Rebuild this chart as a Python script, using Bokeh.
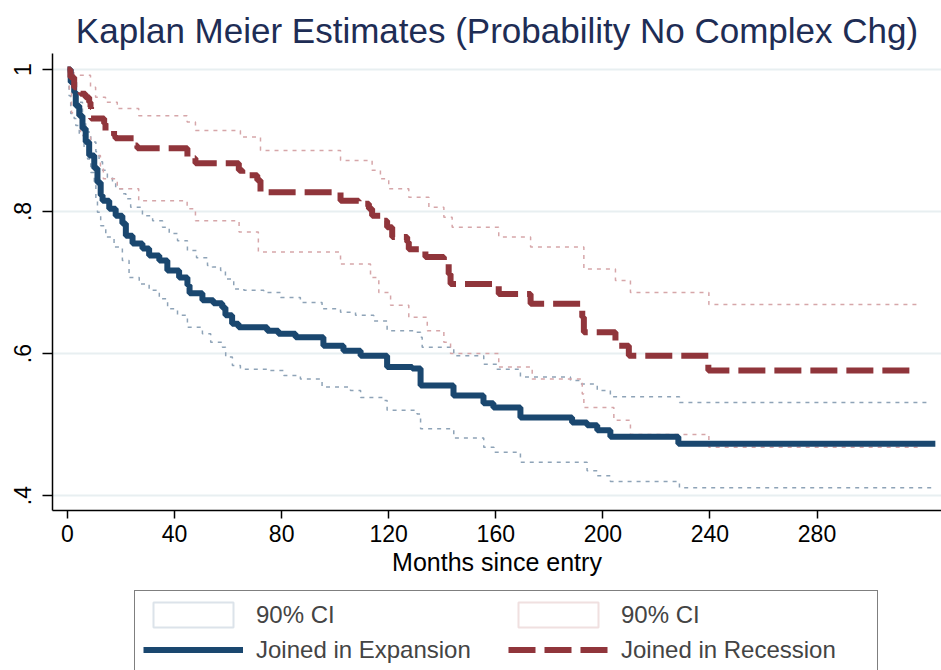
from bokeh.plotting import figure
from bokeh.layouts import column
from bokeh.models import Legend, LegendItem, Range1d
from bokeh.embed import file_html
from bokeh.resources import INLINE

title = "Kaplan Meier Estimates (Probability No Complex Chg)"
x_label = "Months since entry"
x_ticks = [0, 40, 80, 120, 160, 200, 240, 280]
y_ticks = [0.4, 0.6, 0.8, 1.0]
y_tick_labels = {0.4: ".4", 0.6: ".6", 0.8: ".8", 1.0: "1"}

# Joined in Expansion: survivor function and 90% CI (months, probability)
exp_t = [0, 1.2, 2.5, 3.1, 4.4, 5.6, 6.8, 8.1, 10.0, 11.2, 12.4, 13.1, 15.6, 18.0,
         20.5, 21.8, 24.3, 28.0, 30.5, 34.3, 37.3, 41.7, 44.8, 45.6, 50.4, 54.5,
         57.8, 59.0, 61.5, 63.9, 74.6, 78.8, 85.2, 95.6, 103.1, 109.5, 119.4, 128.8,
         131.9, 144.2, 155.4, 159.1, 169.2, 188.5, 194.1, 197.9, 202.8, 228.2, 324.2]
exp_s = [1.0, 0.982, 0.968, 0.949, 0.935, 0.917, 0.898, 0.879, 0.861, 0.841, 0.823,
         0.815, 0.804, 0.794, 0.783, 0.766, 0.755, 0.748, 0.738, 0.731, 0.717, 0.707,
         0.696, 0.685, 0.675, 0.671, 0.665, 0.654, 0.642, 0.637, 0.632, 0.628, 0.623,
         0.611, 0.604, 0.597, 0.581, 0.579, 0.555, 0.541, 0.530, 0.524, 0.510, 0.503,
         0.499, 0.492, 0.483, 0.473, 0.473]

exp_hi_t = [0, 1.1, 2.2, 3.7, 5.6, 6.8, 8.7, 10.6, 11.8, 13.1, 14.9, 16.8, 18.0, 20.5,
            21.8, 23.6, 28.0, 31.8, 35.5, 38.0, 41.1, 44.8, 48.2, 52.3, 54.1, 57.2,
            59.0, 62.1, 65.9, 73.3, 79.6, 87.0, 95.1, 102.0, 107.6, 114.4, 119.4, 129.4,
            131.9, 132.5, 144.3, 155.5, 160.5, 168.6, 169.2, 187.9, 191.6, 197.9, 202.8,
            228.6, 321.7]
exp_hi = [1.0, 0.985, 0.968, 0.954, 0.926, 0.912, 0.898, 0.884, 0.870, 0.858, 0.848,
          0.841, 0.832, 0.825, 0.818, 0.806, 0.794, 0.787, 0.778, 0.769, 0.759, 0.745,
          0.735, 0.724, 0.722, 0.717, 0.705, 0.691, 0.689, 0.686, 0.679, 0.672, 0.663,
          0.658, 0.654, 0.646, 0.632, 0.630, 0.623, 0.609, 0.597, 0.585, 0.578, 0.576,
          0.567, 0.562, 0.557, 0.548, 0.539, 0.531, 0.531]

exp_lo_t = [0, 0.6, 1.2, 2.5, 3.1, 4.4, 6.2, 7.5, 8.7, 10.0, 10.6, 11.2, 12.4, 14.3,
            17.4, 20.5, 23.0, 26.8, 30.5, 34.3, 37.4, 41.1, 44.8, 50.4, 53.5, 57.9,
            59.1, 61.6, 64.6, 74.6, 80.8, 87.0, 95.1, 105.7, 109.5, 118.2, 119.4, 130.6,
            131.9, 144.3, 155.5, 159.3, 169.2, 194.1, 197.9, 202.8, 228.6, 323.6]
exp_lo = [1.0, 0.963, 0.938, 0.931, 0.921, 0.907, 0.888, 0.874, 0.855, 0.837, 0.818,
          0.799, 0.780, 0.764, 0.750, 0.731, 0.707, 0.698, 0.689, 0.677, 0.663, 0.654,
          0.637, 0.628, 0.616, 0.609, 0.595, 0.583, 0.578, 0.576, 0.569, 0.564, 0.553,
          0.548, 0.538, 0.534, 0.520, 0.515, 0.494, 0.481, 0.468, 0.461, 0.447, 0.435,
          0.428, 0.420, 0.411, 0.411]

# Joined in Recession
rec_t = [0, 1.1, 2.5, 4.9, 6.7, 8.1, 8.6, 8.8, 13.7, 14.2, 17.4, 17.9, 24.9, 26.1,
         44.8, 47.8, 64.0, 65.3, 70.9, 72.1, 102.0, 108.8, 112.6, 113.8, 116.9, 119.4,
         121.3, 126.9, 127.5, 133.7, 140.6, 142.4, 143.1, 161.1, 173.0, 192.3, 192.9,
         204.7, 209.7, 239.4, 317.1]
rec_s = [1.0, 0.989, 0.975, 0.966, 0.961, 0.954, 0.947, 0.931, 0.924, 0.914, 0.907,
         0.903, 0.893, 0.889, 0.875, 0.868, 0.858, 0.851, 0.844, 0.827, 0.815, 0.811,
         0.804, 0.794, 0.787, 0.778, 0.764, 0.757, 0.747, 0.736, 0.727, 0.712, 0.698,
         0.684, 0.670, 0.651, 0.630, 0.611, 0.597, 0.576, 0.576]

rec_hi_t = [0, 2.4, 8.6, 10.5, 14.2, 18.6, 26.6, 44.7, 47.8, 64.6, 72.1, 102.0, 113.8,
            116.9, 120.0, 127.5, 135.0, 140.6, 143.7, 161.1, 173.0, 192.9, 204.7, 210.3,
            239.6, 317.4]
rec_hi = [1.0, 0.992, 0.975, 0.961, 0.954, 0.945, 0.935, 0.926, 0.914, 0.905, 0.886,
          0.872, 0.858, 0.846, 0.832, 0.820, 0.806, 0.792, 0.778, 0.764, 0.750, 0.719,
          0.703, 0.686, 0.669, 0.669]

rec_lo_t = [0, 0.7, 1.5, 4.9, 8.6, 12.3, 13.4, 18.6, 26.6, 44.7, 47.8, 64.1, 71.3,
            102.0, 113.2, 116.3, 120.7, 127.5, 134.4, 140.6, 143.1, 161.1, 173.6, 192.3,
            192.9, 204.1, 210.3, 239.6, 318.6]
rec_lo = [1.0, 0.970, 0.939, 0.907, 0.879, 0.862, 0.846, 0.832, 0.815, 0.804, 0.787,
          0.771, 0.743, 0.726, 0.707, 0.686, 0.668, 0.651, 0.632, 0.616, 0.600, 0.581,
          0.564, 0.543, 0.524, 0.506, 0.486, 0.468, 0.468]

legend_labels = ["90% CI", "90% CI", "Joined in Expansion", "Joined in Recession"]

blue = "#1a476f"
red = "#90353b"
blue_ci = "#8ea3b7"
red_ci = "#d6a6a9"
blue_key = "#dce3ea"
red_key = "#f0e0e0"
font = "Liberation Sans"

p = figure(width=941, height=585, output_backend="svg", toolbar_location=None,
           x_range=Range1d(-5.6, 326.5), y_range=Range1d(0.379, 1.0225),
           min_border_left=52, min_border_right=0, min_border_top=53,
           min_border_bottom=75)
p.outline_line_color = None
p.background_fill_color = "white"
p.border_fill_color = "white"

p.title.text = title
p.title.align = "center"
p.title.text_font = font
p.title.text_font_size = "35px"
p.title.text_font_style = "normal"
p.title.text_color = "#1e2d55"
p.title.standoff = 7

# confidence bands:
p.step(exp_hi_t, exp_hi, mode="after", color=blue_ci, line_width=1.5, line_dash="4 5")
p.step(exp_lo_t, exp_lo, mode="after", color=blue_ci, line_width=1.5, line_dash="4 5")
p.step(rec_hi_t, rec_hi, mode="after", color=red_ci, line_width=1.5, line_dash="4 5")
p.step(rec_lo_t, rec_lo, mode="after", color=red_ci, line_width=1.5, line_dash="4 5")

# survivor curves:
p.step(exp_t, exp_s, mode="after", color=blue, line_width=6)
p.step(rec_t, rec_s, mode="after", color=red, line_width=6, line_dash="27 9")

# axes
p.xaxis.ticker = x_ticks
p.yaxis.ticker = y_ticks
p.yaxis.major_label_overrides = y_tick_labels
p.yaxis.major_label_orientation = "vertical"
for ax in (p.xaxis, p.yaxis):
    ax.axis_line_color = "black"
    ax.axis_line_width = 1.5
    ax.major_tick_line_color = "black"
    ax.major_tick_line_width = 1.5
    ax.minor_tick_line_color = None
    ax.major_tick_in = 0
    ax.major_label_text_font = font
    ax.major_label_text_font_size = "23px"
    ax.major_label_text_color = "black"
p.xaxis.major_tick_out = 8
p.yaxis.major_tick_out = 10
p.xaxis.major_label_standoff = 6
p.yaxis.major_label_standoff = 11
p.xaxis.axis_label = x_label
p.xaxis.axis_label_text_font = font
p.xaxis.axis_label_text_font_size = "25px"
p.xaxis.axis_label_text_font_style = "normal"
p.xaxis.axis_label_text_color = "black"
p.xaxis.axis_label_standoff = 3

p.xgrid.grid_line_color = None
p.ygrid.ticker = y_ticks
p.ygrid.grid_line_color = "#e8eff1"
p.ygrid.grid_line_width = 2

# legend strip under the chart; its key renderers sit outside the strip's view
leg = figure(width=941, height=85, output_backend="svg", toolbar_location=None,
             x_range=Range1d(0, 1), y_range=Range1d(5, 6),
             x_axis_location=None, y_axis_location=None, min_border=0)
leg.outline_line_color = None
leg.xgrid.grid_line_color = None
leg.ygrid.grid_line_color = None
k1 = leg.quad(left=exp_lo_t[:1], right=exp_lo_t[1:2], bottom=exp_lo[:1], top=exp_hi[:1],
              fill_color="white", line_color=blue_key, line_width=2)
k2 = leg.quad(left=rec_lo_t[:1], right=rec_lo_t[1:2], bottom=rec_lo[:1], top=rec_hi[:1],
              fill_color="white", line_color=red_key, line_width=2)
k3 = leg.step(exp_t, exp_s, mode="after", color=blue, line_width=6)
k4 = leg.step(rec_t, rec_s, mode="after", color=red, line_width=6, line_dash="27 9")

items = [LegendItem(label=legend_labels[0], renderers=[k1]),
         LegendItem(label=legend_labels[1], renderers=[k2]),
         LegendItem(label=legend_labels[2], renderers=[k3]),
         LegendItem(label=legend_labels[3], renderers=[k4])]
legend = Legend(items=items, location=(82, -4), ncols=2, orientation="horizontal",
                border_line_color="black", border_line_width=1.5, margin=0,
                padding=8, spacing=4, glyph_width=100, glyph_height=31,
                label_standoff=13, label_width=248, label_text_font=font,
                label_text_font_size="24px", background_fill_alpha=1.0)
leg.add_layout(legend, "center")

open("out.html", "w").write(file_html(column(p, leg), INLINE))
